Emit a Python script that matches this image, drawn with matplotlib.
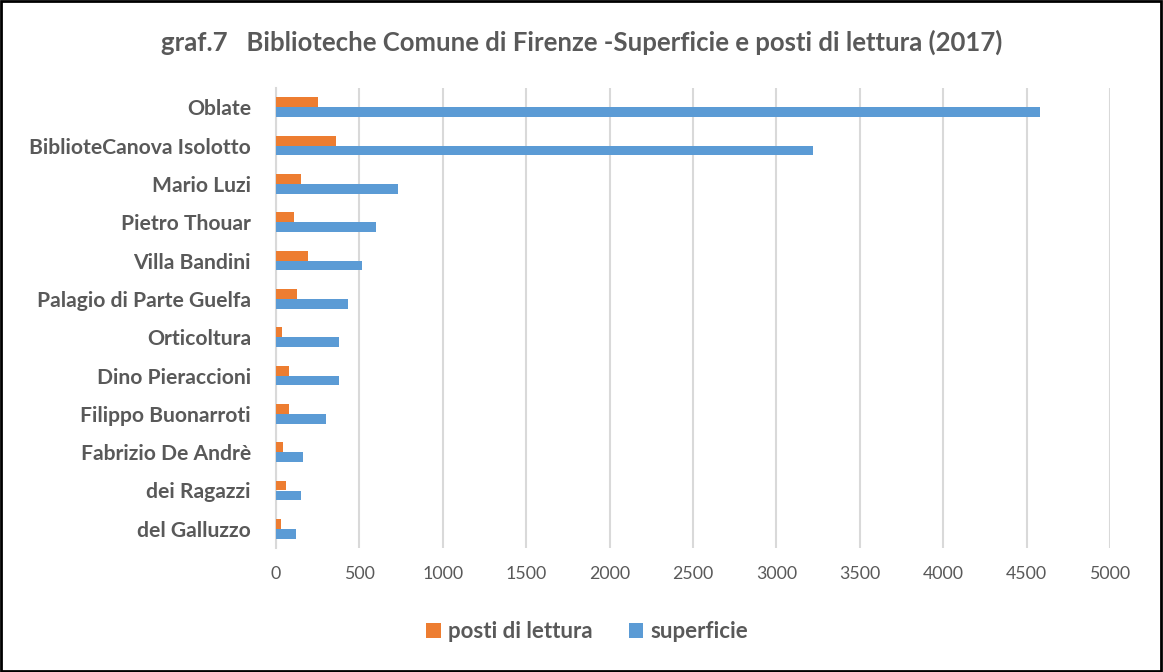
import numpy as np
import matplotlib
matplotlib.use('Agg')
from matplotlib import pyplot as plt
from matplotlib.patches import Rectangle

plt.rcParams['font.family'] = ['Lato', 'DejaVu Sans']

biblioteche = ['Oblate', 'BiblioteCanova Isolotto', 'Mario Luzi', 'Pietro Thouar',
               'Villa Bandini', 'Palagio di Parte Guelfa', 'Orticoltura',
               'Dino Pieraccioni', 'Filippo Buonarroti', 'Fabrizio De Andrè',
               'dei Ragazzi', 'del Galluzzo']
posti_lettura = [250, 360, 150, 110, 190, 126, 36, 76, 80, 44, 58, 28]
superficie = [4580, 3220, 732, 600, 518, 434, 378, 378, 302, 160, 148, 120]
x_ticks = [0, 500, 1000, 1500, 2000, 2500, 3000, 3500, 4000, 4500, 5000]

orange = '#ed7d31'
blue = '#5b9bd5'
text_grey = '#595959'
grid_grey = '#d9d9d9'

fig = plt.figure(figsize=(11.63, 6.72), dpi=100)
ax = fig.add_axes([276 / 1163, 1 - 548 / 672, (1110 - 276) / 1163, (548 - 88) / 672])

y = np.arange(len(biblioteche))
h = 0.26
ax.barh(y - h / 2, posti_lettura, height=h, color=orange, label='posti di lettura', zorder=3)
ax.barh(y + h / 2, superficie, height=h, color=blue, label='superficie', zorder=3)

ax.set_ylim(len(biblioteche) - 0.5, -0.5)
ax.set_xlim(0, 5000)
ax.set_xticks(x_ticks)
ax.set_xticklabels([str(v) for v in x_ticks], fontsize=12.8, color=text_grey)
ax.set_yticks(y)
ax.set_yticklabels(biblioteche, fontsize=15.2, fontweight='bold', color=text_grey)
ax.tick_params(axis='both', length=0)
ax.tick_params(axis='x', pad=13)
ax.tick_params(axis='y', pad=18)
ax.grid(axis='x', color=grid_grey, linewidth=1.5, zorder=0)
for s in ['top', 'right', 'bottom']:
    ax.spines[s].set_visible(False)
ax.spines['left'].set_color(grid_grey)
ax.spines['left'].set_linewidth(1.5)

fig.text(0.5, 1 - 42 / 672, 'graf.7   Biblioteche Comune di Firenze -Superficie e posti di lettura (2017)',
         ha='center', va='center', fontsize=18.5, fontweight='bold', color=text_grey)

handles, labels = ax.get_legend_handles_labels()
fig.legend(handles, labels, loc='center', bbox_to_anchor=(0.505, 1 - 632 / 672), ncol=2,
           frameon=False, prop={'size': 16, 'weight': 'bold'}, labelcolor=text_grey,
           handlelength=0.65, handleheight=0.65, handletextpad=0.35, columnspacing=1.6)

fig.patches.append(Rectangle((0.001, 0.002), 0.997, 0.996, transform=fig.transFigure,
                             fill=False, edgecolor='black', linewidth=2))

fig.savefig('out.png', dpi=100)
